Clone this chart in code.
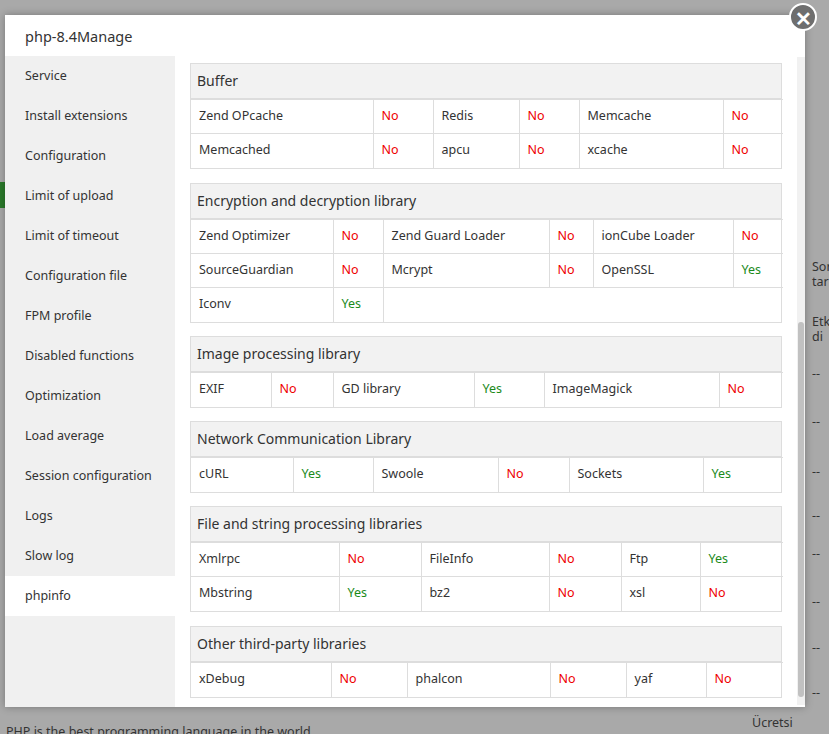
<!DOCTYPE html>
<html><head><meta charset="utf-8">
<script src="https://cdn.jsdelivr.net/npm/chart.js@4"></script>
<style>
body{margin:0;width:829px;height:734px;background:#a9a9a9;font-family:"Noto Sans",Roboto,sans-serif;font-size:12.5px;color:#333;position:relative;overflow:hidden}
.bg{position:absolute;color:#333;font-size:12.5px;line-height:15px}
.modal{position:absolute;left:5px;top:15px;width:800px;height:692px;background:#fff;box-shadow:0 0 8px rgba(0,0,0,.3)}
.title{height:42px;line-height:42px;padding-left:20px;font-size:14.5px;color:#333}
.close{position:absolute;left:789px;top:3px;width:28px;height:28px;border-radius:50%;background:#6e6e6e;border:2px solid #fff;color:#fff;text-align:center;line-height:27px;font-size:20px;font-weight:bold;box-sizing:border-box}
.side{position:absolute;left:0;top:41px;width:170px;height:651px;background:#f0f0f0}
.side div{height:40px;line-height:40px;padding-left:20px;color:#333}
.side div.on{background:#fff}
.content{position:absolute;left:185px;top:0;width:592px}
.sec{position:absolute;left:0;width:592px;border:1px solid #ddd;box-sizing:border-box}
.sec h4{margin:0;height:34px;line-height:34px;background:#f2f2f2;font-weight:normal;font-size:14px;padding-left:6px;border-bottom:1px solid #ddd}
table{border-collapse:collapse;width:590px;table-layout:fixed}
td{border:1px solid #ddd;height:34px;padding:0 0 2px 8px;box-sizing:border-box;white-space:nowrap}
tr td:first-child{border-left:none}tr td:last-child{border-right:none}tr:last-child td{border-bottom:none}
.No{color:#e00}.Yes{color:#1a8a1a}
.scroll{position:absolute;left:792px;top:42px;width:8px;height:648px;background:#f1f1f1}
.thumb{position:absolute;left:1px;top:265px;width:6px;height:375px;background:#c1c1c1;border-radius:3px}
</style></head><body>
<div class="bg" style="left:812px;top:259px">Sor<br>tar</div>
<div class="bg" style="left:812px;top:314px">Etk<br>di</div>
<div class="bg" style="left:812px;top:366px">--</div>
<div class="bg" style="left:812px;top:414px">--</div>
<div class="bg" style="left:812px;top:464px">--</div>
<div class="bg" style="left:812px;top:508px">--</div>
<div class="bg" style="left:812px;top:546px">--</div>
<div class="bg" style="left:812px;top:594px">--</div>
<div class="bg" style="left:812px;top:640px">--</div>
<div class="bg" style="left:812px;top:685px">--</div>
<div class="bg" style="left:752px;top:715px">Ücretsi</div>
<div class="bg" style="left:6px;top:724px">PHP is the best programming language in the world</div>
<div class="bg" style="left:0;top:182px;width:5px;height:26px;background:#2a7a2a"></div>
<div class="modal">
 <div class="title">php-8.4Manage</div>
 <div class="side" id="side"></div>
 <div class="content" id="content"></div>
 <div class="scroll"><div class="thumb"></div></div>
</div>
<div class="close">✕</div>
<script>
const menuItems = ['Service','Install extensions','Configuration','Limit of upload','Limit of timeout','Configuration file','FPM profile','Disabled functions','Optimization','Load average','Session configuration','Logs','Slow log','phpinfo'];
const activeItem = 'phpinfo';
const sectionTitles = ['Buffer','Encryption and decryption library','Image processing library','Network Communication Library','File and string processing libraries','Other third-party libraries'];
const sectionRows = [
 [['Zend OPcache','No','Redis','No','Memcache','No'],['Memcached','No','apcu','No','xcache','No']],
 [['Zend Optimizer','No','Zend Guard Loader','No','ionCube Loader','No'],['SourceGuardian','No','Mcrypt','No','OpenSSL','Yes'],['Iconv','Yes']],
 [['EXIF','No','GD library','Yes','ImageMagick','No']],
 [['cURL','Yes','Swoole','No','Sockets','Yes']],
 [['Xmlrpc','No','FileInfo','No','Ftp','Yes'],['Mbstring','Yes','bz2','No','xsl','No']],
 [['xDebug','No','phalcon','No','yaf','No']]
];
const sectionTops = [48,168,321,406,491,611];
const colWidths = [[182,60,86,60,144,60],[142,50,166,44,140,50],[80,62,141,70,175,64],[102,80,125,71,134,80],[148,82,128,72,79,83],[140,76,143,76,80,77]];

const side = document.getElementById('side');
menuItems.forEach(m => {
  const d = document.createElement('div');
  d.textContent = m;
  if (m === activeItem) d.className = 'on';
  side.appendChild(d);
});
const content = document.getElementById('content');
sectionTitles.forEach((t, i) => {
  const s = document.createElement('div');
  s.className = 'sec';
  s.style.top = sectionTops[i] + 'px';
  let html = '<h4>' + t + '</h4><table><colgroup>' + colWidths[i].map(w => '<col style="width:' + w + 'px">').join('') + '</colgroup>';
  sectionRows[i].forEach(r => {
    html += '<tr>';
    r.forEach((c, j) => { html += '<td class="' + (j % 2 ? c : '') + '">' + c + '</td>'; });
    if (r.length < 6) html += '<td colspan="' + (6 - r.length) + '"></td>';
    html += '</tr>';
  });
  s.innerHTML = html + '</table>';
  content.appendChild(s);
});
</script>
</body></html>
